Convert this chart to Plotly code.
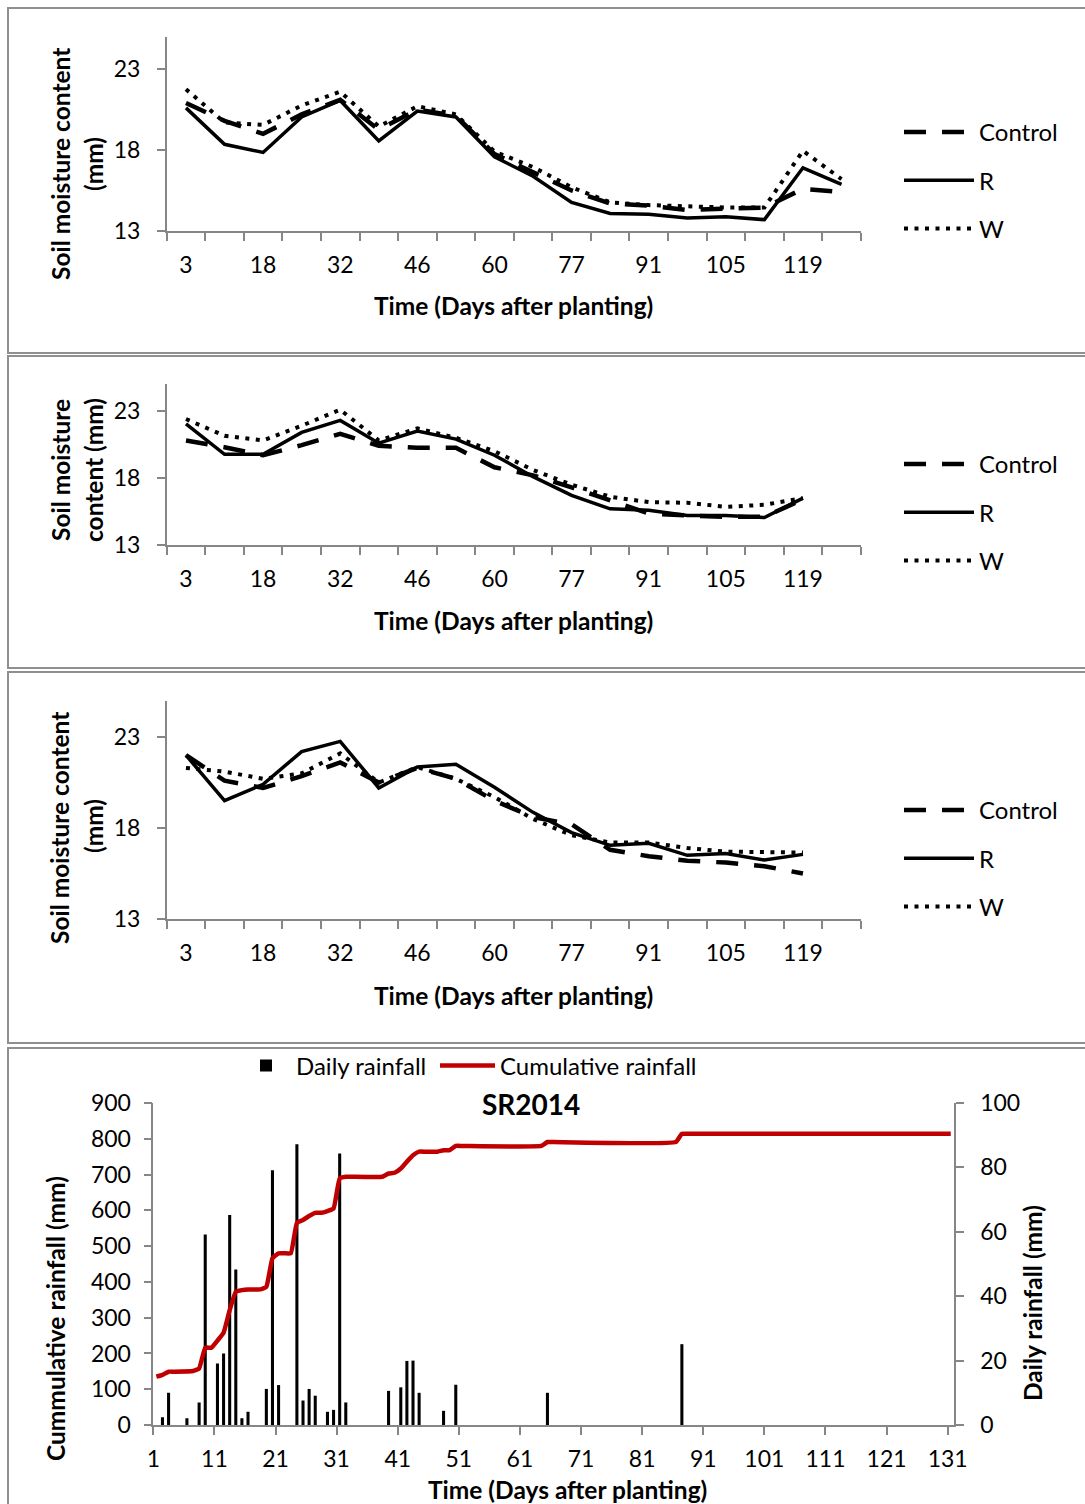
import plotly.graph_objects as go

W, H = 1085, 1504
FONT = "Lato"
AX = "#868686"

# ---------------- data ----------------
# Sampling days (days after planting) for soil moisture panels
sm_days = ["3", "11", "18", "25", "32", "39", "46", "53", "60",
           "67", "77", "84", "91", "98", "105", "112", "119", "126"]

p1_control = [20.9, 19.8, 19.0, 20.2, 21.1, 19.25, 20.5, 20.1, 17.75, 16.65,
              15.5, 14.7, 14.56, 14.3, 14.35, 14.45, 15.6, 15.4]
p1_r = [20.6, 18.35, 17.85, 20.04, 21.06, 18.56, 20.4, 20.04, 17.58, 16.38,
        14.77, 14.08, 14.04, 13.8, 13.88, 13.7, 16.9, 15.88]
p1_w = [21.75, 19.7, 19.55, 20.75, 21.6, 19.45, 20.7, 20.2, 17.9, 16.95,
        15.7, 14.77, 14.6, 14.5, 14.45, 14.45, 17.95, 16.2]

p2_control = [20.8, 20.3, 19.7, 20.45, 21.3, 20.4, 20.25, 20.25, 18.8, 18.2,
              17.3, 16.3, 15.35, 15.2, 15.1, 15.1, 16.4]
p2_r = [22.04, 19.77, 19.77, 21.4, 22.3, 20.6, 21.5, 20.9, 19.7, 18.1,
        16.7, 15.7, 15.6, 15.2, 15.2, 15.05, 16.5]
p2_w = [22.4, 21.15, 20.8, 21.9, 23.1, 20.8, 21.7, 21.0, 20.0, 18.6,
        17.5, 16.6, 16.2, 16.15, 15.85, 16.0, 16.5]

p3_control = [22.0, 20.6, 20.2, 20.85, 21.6, 20.5, 21.3, 20.7, 19.5, 18.6,
              18.2, 16.8, 16.45, 16.2, 16.1, 15.9, 15.5]
p3_r = [22.0, 19.5, 20.4, 22.2, 22.76, 20.2, 21.35, 21.5, 20.24, 18.86,
        17.75, 17.05, 17.16, 16.5, 16.6, 16.24, 16.55]
p3_w = [21.3, 21.1, 20.7, 21.0, 22.1, 20.5, 21.35, 20.7, 19.7, 18.5,
        17.6, 17.2, 17.2, 16.9, 16.7, 16.7, 16.65]

# Rainfall (SR2014)
rain_days = [2, 3, 6, 8, 9, 11, 12, 13, 14, 15, 16, 19, 20, 21, 24, 25, 26, 27,
             29, 30, 31, 32, 39, 41, 42, 43, 44, 48, 50, 65, 87]
rain_mm = [2.4, 10.0, 2.1, 7.0, 59.2, 19.1, 22.2, 65.2, 48.3, 2.1, 4.1, 11.2,
           79.1, 12.4, 87.2, 7.6, 11.2, 9.1, 4.1, 4.7, 84.3, 7.0, 10.6, 11.7,
           19.9, 20.0, 10.0, 4.4, 12.5, 10.0, 25.1]

# Cumulative rainfall read at the days where the curve changes slope
cum_days = [1, 2, 3, 4, 7, 8, 9, 10, 11, 12, 13, 14, 15, 16, 17, 18, 19, 20, 21,
            22, 23, 24, 25, 26, 27, 28, 29, 30, 31, 32, 33, 38, 39, 40, 41, 42,
            43, 44, 45, 47, 48, 49, 50, 51, 64, 65, 66, 86, 87, 88, 131]
cum_mm = [135, 140, 149, 149, 151, 158, 216, 216, 236, 258, 321, 372, 377, 379,
          379, 379, 386, 466, 480, 480, 480, 565, 573, 584, 593, 593, 598, 605,
          689, 694, 694, 694, 703, 705, 717, 736, 754, 764, 764, 764, 768, 768,
          780, 780, 780, 791, 791, 791, 814, 814, 814]

rain_ticks = list(range(1, 132, 10))

# ---------------- helpers ----------------
def fx(p):
    return p / W


def fy(p):
    return 1 - p / H


fig = go.Figure()

styles = {
    "Control": dict(color="black", width=4.5, dash="22px,16px"),
    "R": dict(color="black", width=3.5),
    "W": dict(color="black", width=4, dash="4px,6.5px"),
}

panels = [
    dict(ax="", data=[p1_control, p1_r, p1_w], ytop=36.6, ybot=231, leg="legend", legtop=110),
    dict(ax="2", data=[p2_control, p2_r, p2_w], ytop=384.2, ybot=545, leg="legend2", legtop=442),
    dict(ax="3", data=[p3_control, p3_r, p3_w], ytop=700.6, ybot=919, leg="legend3", legtop=788),
]

TICK = 23
tick_font = dict(family=FONT, size=TICK, color="black")
common_axis = dict(
    showline=True, linecolor=AX, linewidth=1.5, showgrid=False,
    zeroline=False, tickfont=tick_font, fixedrange=True, automargin=False,
)

for k, p in enumerate(panels):
    for name, vals in zip(["Control", "R", "W"], p["data"]):
        fig.add_trace(go.Scatter(
            x=list(range(len(vals))), y=vals, mode="lines", name=name,
            line=styles[name], xaxis="x" + p["ax"], yaxis="y" + p["ax"],
            legend=p["leg"], legendgroup=f"g{k}{name}", hoverinfo="skip",
        ))
    n = len(sm_days)
    fig.layout["xaxis" + p["ax"]] = dict(
        domain=[fx(166.7), fx(860.8)], range=[-0.5, n - 0.5],
        anchor="y" + p["ax"], tickmode="array",
        tickvals=list(range(0, n, 2)), ticktext=sm_days[::2],
        ticks="outside", ticklen=8, tickcolor="rgba(0,0,0,0)",
        ticklabelstandoff=5,
        minor=dict(ticks="outside", ticklen=8, tickcolor=AX, tickwidth=1.5,
                   tickmode="linear", tick0=-0.5, dtick=1, showgrid=False),
        **common_axis,
    )
    fig.layout["yaxis" + p["ax"]] = dict(
        domain=[fy(p["ybot"]), fy(p["ytop"])], range=[13, 25],
        anchor="x" + p["ax"], tick0=13, dtick=5,
        ticks="outside", ticklen=8, tickcolor=AX, tickwidth=1.5,
        ticklabelstandoff=12, **common_axis,
    )
    fig.layout[p["leg"]] = dict(
        xref="container", yref="container",
        x=fx(899), y=fy(p["legtop"]), xanchor="left", yanchor="top",
        font=dict(family=FONT, size=24, color="black"),
        bgcolor="rgba(0,0,0,0)", tracegroupgap=14, itemwidth=70,
    )

# ---------------- rainfall panel ----------------
# Excel date axis with bars "between tick marks": each day sits mid-interval
fig.add_trace(go.Bar(
    x=[d + 0.5 for d in rain_days], y=rain_mm, width=0.5,
    marker=dict(color="black", line=dict(width=0)),
    name="Daily rainfall", xaxis="x4", yaxis="y4", legend="legend4",
    hoverinfo="skip",
))
fig.add_trace(go.Scatter(
    x=[d + 0.5 for d in cum_days], y=cum_mm, mode="lines",
    line=dict(color="#C00000", width=4.5, shape="spline", smoothing=0.35),
    name="Cumulative rainfall", xaxis="x4", yaxis="y5", legend="legend5",
    hoverinfo="skip",
))

fig.layout["xaxis4"] = dict(
    domain=[fx(153.3), fx(953.8)], range=[1, 132], anchor="y4",
    tickmode="array", tickvals=rain_ticks,
    ticks="outside", ticklen=8, tickcolor=AX, tickwidth=1.5,
    ticklabelstandoff=5, **common_axis,
)
fig.layout["yaxis4"] = dict(
    domain=[fy(1425), fy(1103)], range=[0, 100], dtick=20, anchor="x4",
    side="right", ticks="outside", ticklen=8, tickcolor=AX, tickwidth=1.5,
    ticklabelstandoff=12, **common_axis,
)
fig.layout["yaxis5"] = dict(
    range=[0, 900], dtick=100, anchor="x4", overlaying="y4", side="left",
    ticks="outside", ticklen=8, tickcolor=AX, tickwidth=1.5,
    ticklabelstandoff=8, **common_axis,
)
for leg, xpos, iw in (("legend4", 236, 50), ("legend5", 435, 55)):
    fig.layout[leg] = dict(
        xref="container", yref="container",
        orientation="h", x=fx(xpos), y=fy(1066), xanchor="left",
        yanchor="middle", font=dict(family=FONT, size=24, color="black"),
        bgcolor="rgba(0,0,0,0)", itemwidth=iw,
    )

# ---------------- text ----------------
ann = []


def add_text(txt, x, y, angle=0, size=24.5):
    ann.append(dict(text=f"<b>{txt}</b>", x=fx(x), y=fy(y), xref="paper",
                    yref="paper", showarrow=False, textangle=angle,
                    xanchor="center", yanchor="middle",
                    font=dict(family=FONT, size=size, color="black")))


add_text("Soil moisture content", 60, 164, -90)
add_text("(mm)", 93, 164, -90)
add_text("Soil moisture", 60, 470, -90)
add_text("content (mm)", 93, 470, -90)
add_text("Soil moisture content", 60, 828, -90)
add_text("(mm)", 93, 826, -90)
for yy in (305, 620, 995):
    add_text("Time (Days after planting)", 513, yy)
add_text("Time (Days after planting)", 567, 1489)
add_text("Cummulative rainfall (mm)", 55, 1319, -90)
add_text("Daily rainfall (mm)", 1032, 1303, -90)
add_text("SR2014", 531, 1104, 0, 28)

# chart-area borders
shapes = []
for (t, b) in [(8, 353), (356, 668), (672, 1043), (1048, 1512)]:
    shapes.append(dict(type="rect", xref="paper", yref="paper",
                       x0=fx(8), x1=fx(1095), y0=fy(b), y1=fy(t),
                       line=dict(color="#8f8f8f", width=2)))

fig.update_layout(
    width=W, height=H, autosize=False,
    margin=dict(l=0, r=0, t=0, b=0, autoexpand=False),
    paper_bgcolor="white", plot_bgcolor="white",
    annotations=ann, shapes=shapes, font=dict(family=FONT),
    barmode="overlay",
)

fig.write_html(
    "out.html",
    config={"displayModeBar": False},
    post_script="document.body.style.margin='0px';"
                "document.body.style.overflow='hidden';",
)
